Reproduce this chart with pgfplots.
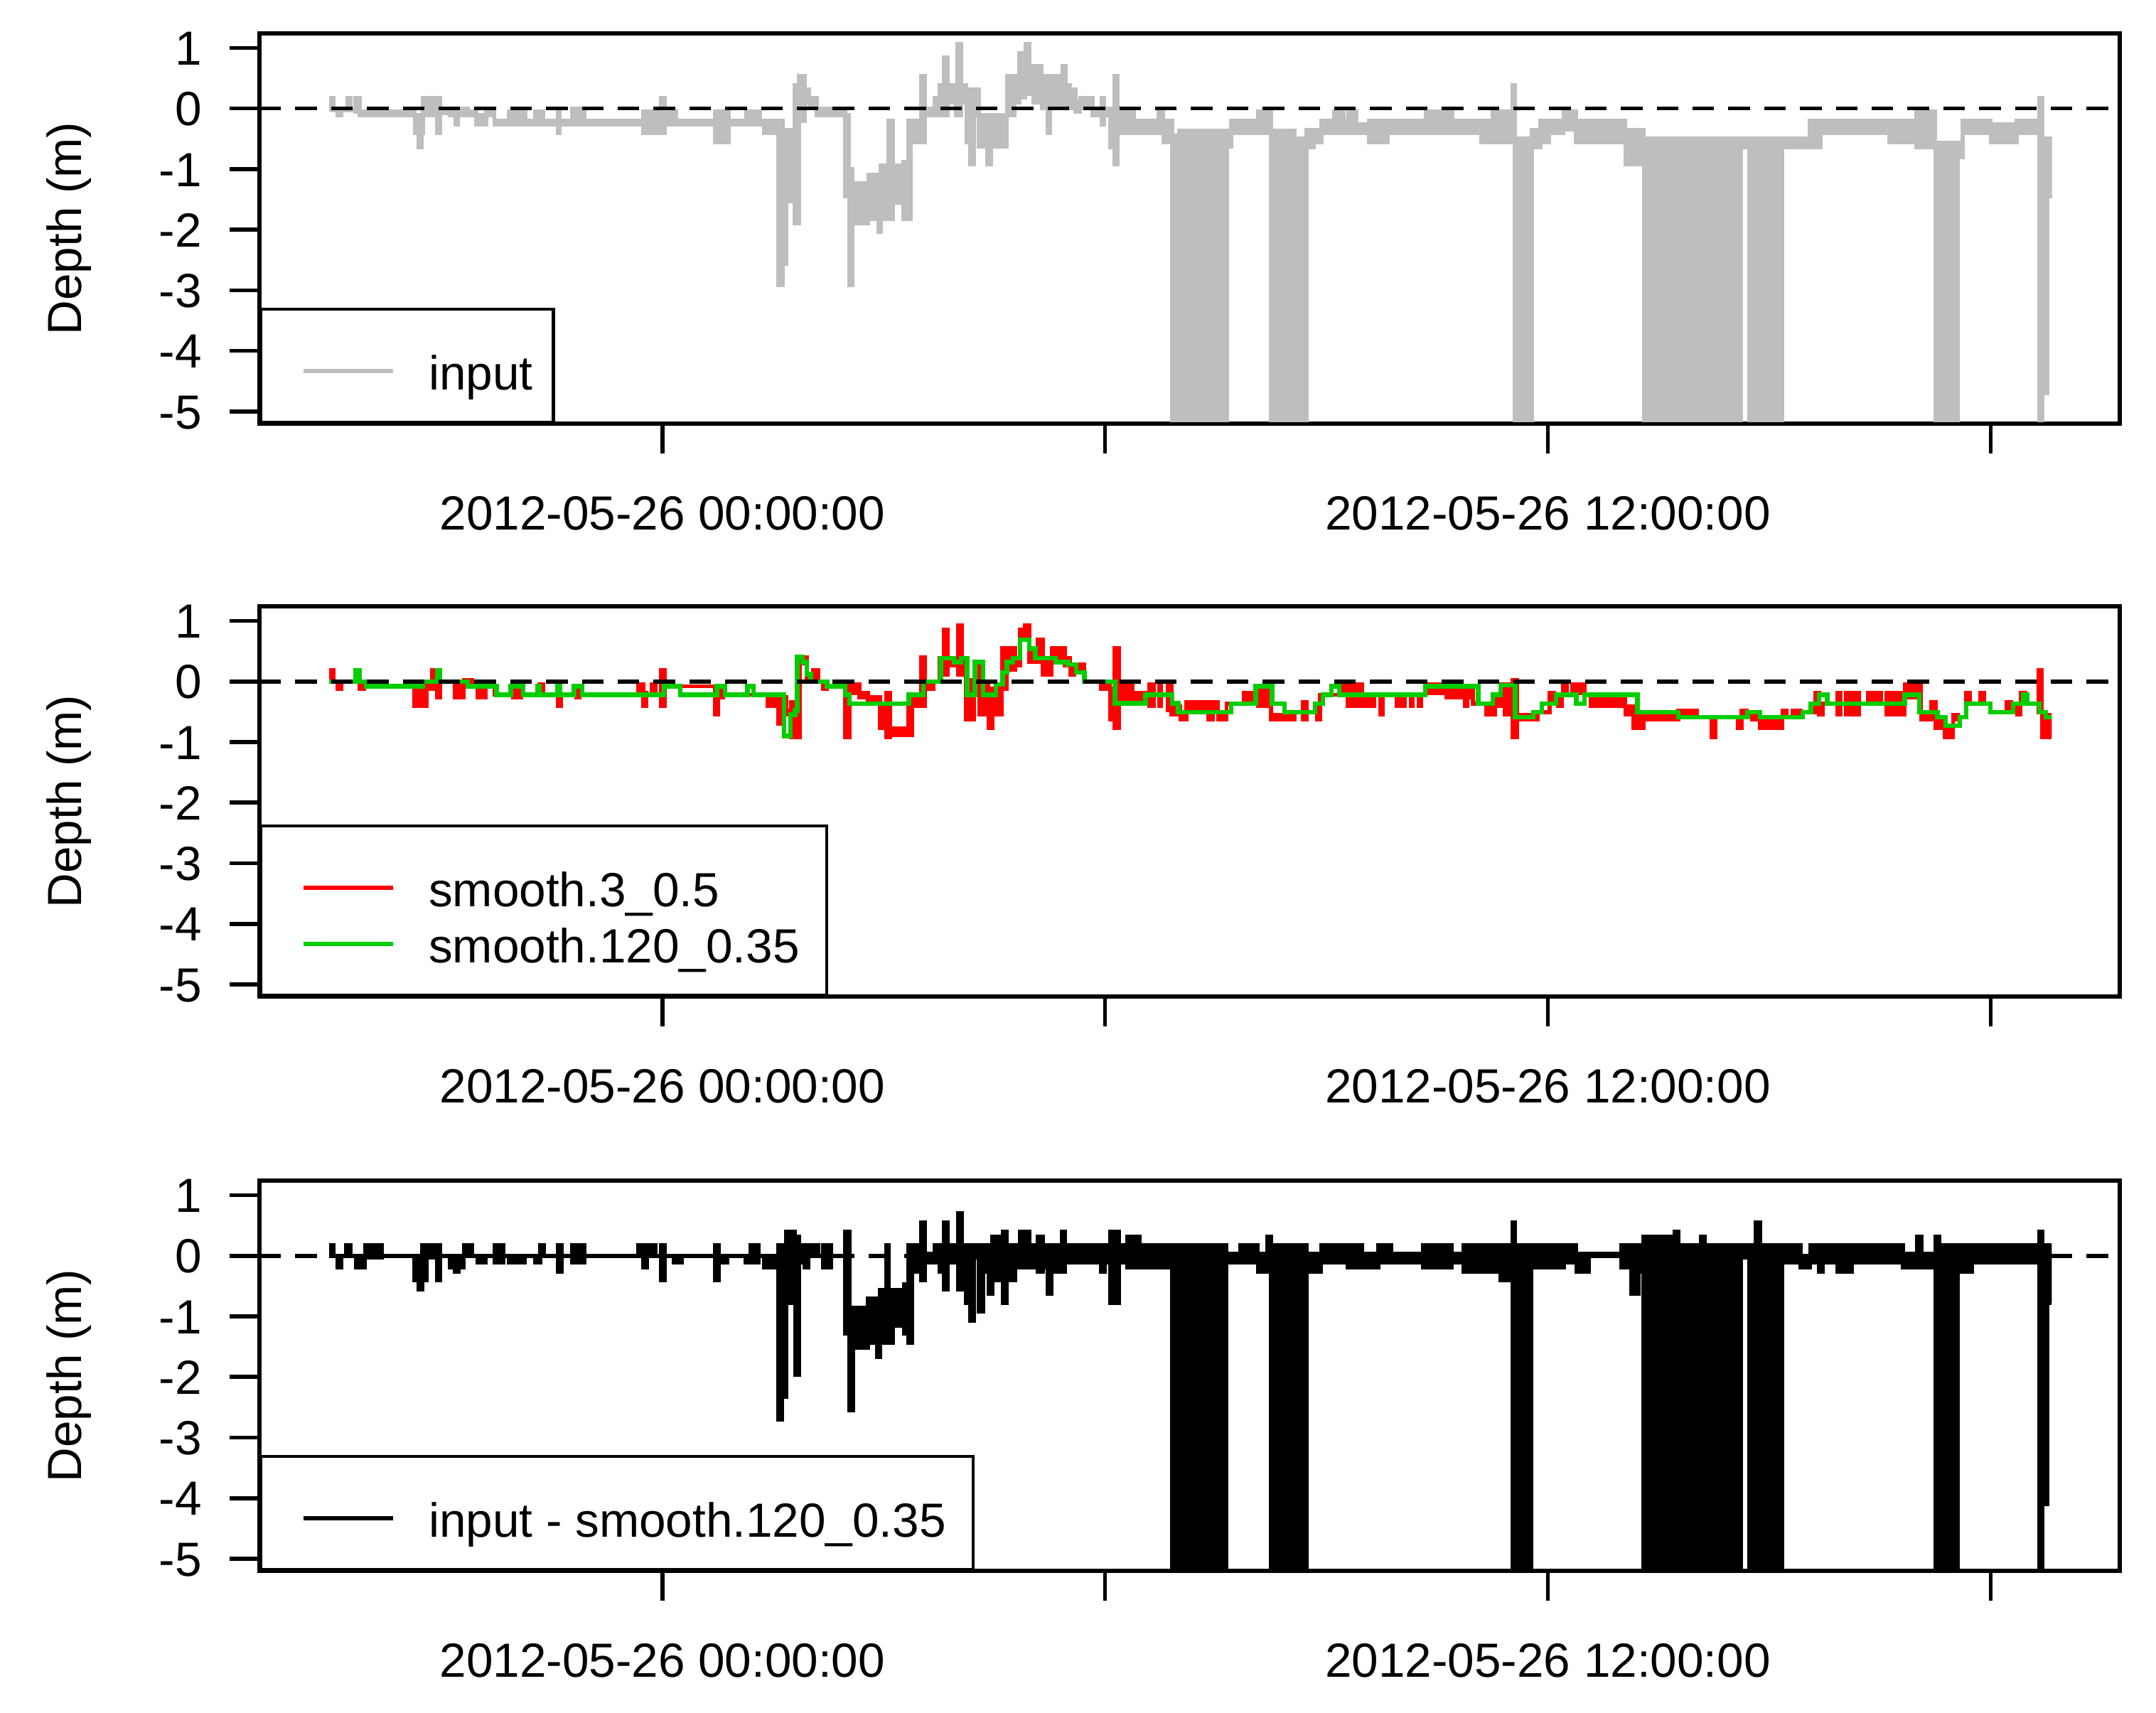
\documentclass[border=0pt]{standalone}
\usepackage{fontspec}
\setmainfont{Liberation Sans}
\usepackage{pgfplots}
\pgfplotsset{compat=1.18}
\usepackage{pgfplotstable}
\usepgfplotslibrary{fillbetween}
\definecolor{rgrey}{HTML}{BEBEBE}
\definecolor{rred}{HTML}{FF0000}
\definecolor{rgreen}{HTML}{00CD00}

\pgfplotstableread{
x lo hi
-4.515 -0.02 0.18
-4.46 -0.03 0.00
-4.40 -0.11 0.00
-4.35 -0.03 0.00
-4.27 -0.03 0.18
-4.23 -0.03 0.00
-4.16 -0.05 0.18
-4.10 -0.11 -0.05
-3.354 -0.41 -0.11
-3.30 -0.64 -0.11
-3.26 -0.41 -0.11
-3.244 -0.11 0.18
-3.05 -0.41 0.18
-3.01 -0.08 -0.04
-2.878 -0.11 0.00
-2.80 -0.26 0.00
-2.77 -0.11 0.00
-2.635 -0.11 -0.05
-2.52 -0.26 -0.11
-2.386 -0.11 -0.05
-2.275 -0.26 -0.20
-2.08 -0.26 -0.05
-1.86 -0.26 -0.20
-1.72 -0.26 -0.05
-1.61 -0.26 -0.20
-1.42 -0.41 -0.05
-1.39 -0.26 -0.20
-1.22 -0.26 0.00
-1.06 -0.26 -0.20
-0.26 -0.41 -0.05
-0.07 -0.26 -0.20
-0.02 -0.41 0.18
0.03 -0.26 -0.05
0.19 -0.26 -0.20
0.71 -0.56 -0.05
0.90 -0.26 -0.20
1.14 -0.26 -0.05
1.32 -0.26 -0.20
1.38 -0.41 -0.20
1.57 -2.92 -0.20
1.63 -2.56 -0.35
1.68 -1.53 -0.35
1.79 -1.89 0.39
1.85 -0.20 0.54
1.93 0.10 0.32
1.99 0.00 0.18
2.09 -0.11 0.00
2.48 -1.45 -0.11
2.53 -2.92 -1.00
2.58 -1.89 -1.23
2.79 -1.82 -1.09
2.93 -2.04 -1.09
2.96 -1.82 -0.94
3.064 -1.82 -0.20
3.12 -1.55 -0.94
3.27 -1.82 -0.88
3.33 -1.82 -0.20
3.37 -0.56 -0.20
3.51 -0.56 0.54
3.56 -0.11 0.00
3.69 -0.11 0.18
3.76 -0.11 0.39
3.81 -0.11 0.84
3.87 0.10 0.39
3.98 -0.11 0.39
4.00 -0.11 1.06
4.05 0.10 0.39
4.12 -0.56 0.32
4.17 -0.92 0.32
4.22 -0.11 0.32
4.29 -0.63 -0.11
4.40 -0.92 -0.11
4.45 -0.63 -0.11
4.67 -0.11 0.54
4.73 -0.11 0.32
4.77 0.10 0.54
4.84 0.18 0.91
4.92 0.24 1.06
4.97 0.24 0.70
5.03 0.10 0.54
5.08 0.10 0.70
5.14 0.00 0.54
5.22 -0.41 0.24
5.25 0.00 0.54
5.42 0.00 0.70
5.47 0.00 0.39
5.52 0.00 0.32
5.60 -0.05 0.10
5.66 0.00 0.18
5.83 -0.11 0.00
5.95 -0.26 0.18
5.99 -0.11 0.00
6.07 -0.64 0.00
6.13 -0.92 0.54
6.17 -0.41 -0.05
6.29 -0.41 -0.05
6.39 -0.41 -0.20
6.72 -0.41 -0.05
6.79 -0.56 -0.20
6.91 -5.14 -0.45
7.00 -5.14 -0.37
7.65 -0.63 -0.37
7.71 -0.41 -0.20
8.07 -0.41 -0.05
8.19 -0.26 -0.05
8.25 -5.14 -0.36
8.57 -5.14 -0.49
8.73 -0.64 -0.35
8.83 -0.56 -0.35
8.93 -0.41 -0.20
9.10 -0.41 -0.05
9.23 -0.41 -0.20
9.30 -0.41 -0.05
9.41 -0.41 -0.26
9.58 -0.56 -0.20
9.83 -0.41 -0.20
10.35 -0.41 -0.05
10.71 -0.41 -0.20
11.10 -0.56 -0.20
11.25 -0.56 -0.05
11.52 -0.49 0.39
11.55 -5.14 -0.49
11.78 -0.64 -0.35
11.90 -0.56 -0.20
12.02 -0.41 -0.20
12.21 -0.35 -0.05
12.38 -0.56 -0.20
13.05 -0.92 -0.35
13.30 -5.14 -0.50
14.62 -0.64 -0.50
14.73 -5.14 -0.50
15.18 -0.64 -0.49
15.55 -0.64 -0.20
15.70 -0.41 -0.20
16.63 -0.56 -0.20
16.99 -0.64 -0.05
17.25 -5.14 -0.56
17.555 -0.80 -0.56
17.62 -0.41 -0.20
18.00 -0.56 -0.26
18.35 -0.41 -0.20
18.66 -5.14 0.18
18.70 -4.70 -0.49
18.77 -1.45 -0.49
18.83 -1.45 -0.49
}\inputT

\pgfplotstableread{
x y
-4.515 0.00
-4.156 0.18
-4.101 0.00
-4.018 -0.08
-3.244 0.00
-3.050 0.18
-3.011 0.00
-2.635 -0.08
-2.248 -0.22
-2.055 -0.08
-1.889 -0.22
-1.695 -0.08
-1.668 -0.22
-1.419 -0.08
-1.391 -0.22
-1.198 -0.08
-1.087 -0.22
0.019 -0.08
0.240 -0.22
0.738 -0.08
0.849 -0.22
1.153 -0.08
1.236 -0.22
1.650 -0.90
1.733 -0.55
1.799 -0.48
1.827 0.40
1.899 0.32
1.955 0.12
2.010 0.00
2.231 -0.08
2.480 -0.22
2.535 -0.37
3.340 -0.22
3.534 0.00
3.772 0.38
3.949 0.32
4.048 0.38
4.131 -0.22
4.236 0.32
4.347 -0.22
4.520 -0.05
4.612 0.15
4.668 0.32
4.750 0.38
4.845 0.69
4.972 0.54
5.055 0.38
5.331 0.32
5.497 0.28
5.608 0.15
5.718 0.00
6.133 -0.36
6.548 -0.22
6.907 -0.36
6.990 -0.51
7.709 -0.37
8.041 -0.08
8.262 -0.37
8.428 -0.51
8.843 -0.37
8.953 -0.22
9.064 -0.08
9.175 -0.22
10.336 -0.08
11.055 -0.37
11.25 -0.22
11.36 -0.06
11.556 -0.59
11.805 -0.51
11.916 -0.37
12.109 -0.22
12.386 -0.37
12.496 -0.22
13.215 -0.51
13.768 -0.59
14.708 -0.51
14.874 -0.59
15.455 -0.51
15.565 -0.37
15.676 -0.22
15.787 -0.37
16.837 -0.22
17.031 -0.51
17.280 -0.59
17.390 -0.73
17.584 -0.59
17.667 -0.37
17.999 -0.51
18.303 -0.37
18.441 -0.22
18.496 -0.37
18.662 -0.51
18.745 -0.59
18.828 -0.59
}\greenT

\pgfplotstableread{
x lo hi
-4.515 0.00 0.19
-4.46 0.00 0.00
-4.405 -0.12 0.00
-4.35 0.00 0.00
-4.10 -0.12 -0.05
-4.045 -0.08 -0.08
-3.365 -0.41 -0.12
-3.19 -0.12 -0.05
-3.12 -0.12 0.19
-3.067 -0.05 0.00
-3.05 -0.26 0.00
-3.011 0.00 0.00
-2.81 -0.26 -0.05
-2.69 -0.05 0.02
-2.58 -0.08 -0.08
-2.508 -0.26 -0.12
-2.398 -0.08 -0.08
-2.276 -0.22 -0.22
-2.027 -0.26 -0.12
-1.916 -0.22 -0.22
-1.668 -0.19 -0.05
-1.612 -0.22 -0.22
-1.419 -0.41 -0.22
-1.375 -0.22 -0.22
-1.17 -0.26 -0.12
-1.126 -0.22 -0.22
-0.324 -0.19 -0.05
-0.258 -0.41 -0.19
-0.214 -0.22 -0.22
-0.147 -0.19 -0.05
-0.092 -0.22 -0.22
-0.02 -0.41 0.19
0.036 -0.08 -0.08
0.71 -0.55 -0.22
0.754 -0.26 -0.12
0.82 -0.22 -0.22
1.43 -0.41 -0.26
1.568 -0.70 -0.26
1.623 -0.41 -0.26
1.678 -0.55 -0.48
1.745 -0.92 -0.34
1.86 0.30 0.40
1.955 0.00 0.12
2.04 0.00 0.19
2.11 0.00 0.00
2.18 -0.12 -0.05
2.231 -0.08 -0.08
2.48 -0.92 -0.26
2.535 -0.19 -0.05
2.673 -0.26 -0.19
2.784 -0.34 -0.26
2.95 -0.77 -0.41
3.033 -0.92 -0.19
3.09 -0.88 -0.77
3.33 -0.88 -0.41
3.385 -0.41 -0.26
3.506 -0.41 0.40
3.56 -0.05 0.00
3.617 -0.12 -0.05
3.672 0.00 0.00
3.755 0.30 0.38
3.81 0.11 0.85
3.866 0.26 0.32
4.004 0.11 0.93
4.059 0.32 0.38
4.115 -0.63 0.02
4.225 0.11 0.26
4.292 -0.55 -0.05
4.419 -0.77 -0.12
4.474 -0.55 -0.12
4.601 -0.12 0.55
4.668 0.19 0.32
4.723 0.19 0.55
4.778 0.26 0.32
4.845 0.69 0.85
4.917 0.69 0.93
4.972 0.32 0.48
5.083 0.32 0.69
5.154 0.11 0.32
5.276 0.32 0.55
5.453 0.26 0.38
5.525 0.11 0.26
5.58 0.15 0.28
5.718 0.00 0.00
5.94 -0.12 -0.05
6.067 -0.63 -0.12
6.122 -0.77 0.55
6.188 -0.34 -0.05
6.327 -0.19 -0.05
6.371 -0.34 -0.19
6.603 -0.41 -0.05
6.66 -0.22 -0.22
6.73 -0.41 -0.05
6.76 -0.22 -0.22
6.85 -0.48 -0.05
6.90 -0.55 -0.41
7.018 -0.63 -0.55
7.10 -0.48 -0.34
7.40 -0.63 -0.34
7.46 -0.48 -0.34
7.53 -0.63 -0.51
7.645 -0.37 -0.37
7.875 -0.34 -0.19
7.985 -0.37 -0.37
8.07 -0.41 -0.12
8.25 -0.63 -0.55
8.566 -0.51 -0.51
8.677 -0.63 -0.34
8.732 -0.51 -0.51
8.87 -0.63 -0.41
8.914 -0.22 -0.22
9.175 -0.19 -0.05
9.23 -0.22 -0.22
9.285 -0.41 -0.05
9.479 -0.22 -0.22
9.534 -0.41 -0.26
9.645 -0.22 -0.22
9.728 -0.55 -0.22
9.76 -0.22 -0.22
9.949 -0.41 -0.26
10.06 -0.22 -0.22
10.142 -0.41 -0.22
10.17 -0.22 -0.22
10.25 -0.41 -0.22
10.28 -0.22 -0.22
10.336 -0.19 -0.05
10.629 -0.26 -0.12
10.88 -0.41 -0.12
10.91 -0.26 -0.12
10.983 -0.37 -0.37
11.165 -0.55 -0.41
11.287 -0.41 -0.26
11.36 -0.05 -0.05
11.414 -0.55 -0.12
11.47 -0.05 -0.05
11.525 -0.92 0.02
11.58 -0.63 -0.55
11.86 -0.51 -0.51
12.026 -0.34 -0.19
12.08 -0.37 -0.37
12.137 -0.41 -0.26
12.192 -0.22 -0.22
12.203 -0.22 -0.05
12.258 -0.22 -0.22
12.33 -0.19 -0.05
12.496 -0.22 -0.22
12.58 -0.41 -0.26
12.994 -0.22 -0.22
13.05 -0.55 -0.41
13.16 -0.77 -0.55
13.298 -0.63 -0.55
13.768 -0.55 -0.48
14.017 -0.59 -0.59
14.222 -0.92 -0.59
14.266 -0.59 -0.59
14.57 -0.77 -0.59
14.625 -0.55 -0.48
14.692 -0.59 -0.59
14.764 -0.63 -0.55
14.819 -0.59 -0.59
14.874 -0.77 -0.63
15.178 -0.55 -0.48
15.234 -0.59 -0.59
15.317 -0.55 -0.48
15.427 -0.51 -0.51
15.62 -0.34 -0.19
15.676 -0.55 -0.41
15.72 -0.37 -0.37
15.925 -0.55 -0.19
15.97 -0.37 -0.37
16.035 -0.55 -0.19
16.218 -0.37 -0.37
16.34 -0.34 -0.19
16.516 -0.37 -0.37
16.588 -0.55 -0.19
16.837 -0.26 -0.05
17.058 -0.63 -0.51
17.197 -0.48 -0.34
17.252 -0.77 -0.63
17.38 -0.92 -0.77
17.49 -0.63 -0.55
17.556 -0.59 -0.59
17.667 -0.34 -0.19
17.72 -0.37 -0.37
17.86 -0.34 -0.19
17.916 -0.37 -0.37
18.0 -0.51 -0.51
18.22 -0.48 -0.34
18.275 -0.51 -0.51
18.358 -0.55 -0.41
18.402 -0.37 -0.37
18.413 -0.34 -0.19
18.468 -0.37 -0.37
18.651 -0.51 0.19
18.695 -0.92 -0.55
18.828 -0.92 -0.55
}\redT

\pgfplotstableread{
x lo hi
-4.515 0.00 0.18
-4.46 0.00 0.00
-4.405 -0.19 0.00
-4.35 0.00 0.00
-4.283 0.00 0.18
-4.228 0.00 0.00
-4.156 -0.19 0.00
-4.029 -0.03 0.18
-3.797 0.00 0.00
-3.365 -0.41 0.00
-3.30 -0.56 0.00
-3.255 -0.41 0.18
-3.19 -0.03 0.18
-3.05 -0.41 0.18
-3.01 0.00 0.00
-2.879 -0.19 0.00
-2.812 -0.26 0.00
-2.762 -0.19 0.00
-2.69 0.00 0.18
-2.58 0.00 0.00
-2.508 -0.11 0.00
-2.398 0.00 0.00
-2.276 -0.11 0.18
-2.154 0.00 0.00
-2.083 -0.11 0.00
-1.861 0.00 0.00
-1.723 -0.11 0.00
-1.657 0.00 0.18
-1.601 0.00 0.00
-1.419 -0.26 0.18
-1.364 0.00 0.00
-1.225 -0.11 0.18
-1.059 0.00 0.00
-0.324 0.00 0.18
-0.258 -0.19 0.18
-0.213 0.00 0.18
-0.092 0.00 0.00
-0.02 -0.41 0.18
0.036 0.00 0.00
0.157 -0.11 0.00
0.268 0.00 0.00
0.71 -0.41 0.18
0.765 -0.11 0.00
0.876 0.00 0.00
1.125 -0.11 0.00
1.191 -0.11 0.18
1.30 0.00 0.00
1.374 -0.19 0.00
1.568 -2.70 0.18
1.623 -2.33 -0.19
1.678 -0.78 0.40
1.80 -1.97 0.32
1.855 -0.11 0.18
1.927 -0.19 0.18
1.982 0.00 0.18
2.109 0.00 0.00
2.176 -0.19 0.18
2.286 0.00 0.00
2.48 -1.29 0.40
2.535 -2.55 -0.86
2.59 -1.52 -0.86
2.784 -1.44 -0.70
2.906 -1.67 -0.70
2.95 -1.44 -0.56
3.033 -1.15 0.18
3.064 -1.44 -0.56
3.12 -1.15 -0.56
3.274 -1.29 -0.47
3.33 -1.44 0.18
3.385 -0.26 0.18
3.506 -0.41 0.55
3.562 -0.11 0.03
3.689 -0.11 0.18
3.755 -0.26 0.18
3.81 -0.56 0.55
3.866 -0.11 0.18
4.004 -0.56 0.70
4.059 -0.11 0.03
4.115 -0.78 0.18
4.17 -1.07 0.18
4.225 -0.03 0.18
4.29 -0.92 0.18
4.347 -0.26 0.18
4.419 -0.63 0.18
4.474 -0.41 0.32
4.612 -0.78 0.40
4.668 -0.26 0.18
4.723 -0.41 0.18
4.778 -0.19 0.18
4.845 -0.19 0.40
4.972 -0.19 0.18
5.083 -0.26 0.32
5.154 -0.19 0.18
5.22 -0.63 0.18
5.276 -0.26 0.18
5.414 -0.26 0.40
5.453 -0.11 0.18
5.94 -0.26 0.18
5.995 -0.11 0.18
6.067 -0.78 0.40
6.188 -0.11 0.18
6.299 -0.19 0.32
6.465 -0.19 0.18
6.907 -5.14 0.18
7.643 -0.11 0.03
7.83 -0.11 0.18
8.069 -0.26 0.03
8.195 -0.26 0.32
8.25 -5.14 0.18
8.732 -0.26 0.03
8.926 -0.11 0.18
9.285 -0.19 0.18
9.479 -0.19 0.03
9.70 -0.11 0.18
9.877 -0.11 0.03
10.308 -0.19 0.18
10.695 -0.11 0.03
10.861 -0.26 0.18
11.359 -0.41 0.18
11.525 -5.14 0.55
11.556 -5.14 0.18
11.777 -0.19 0.18
12.22 -0.11 0.18
12.386 -0.26 0.03
12.551 0.00 0.03
12.994 -0.19 0.18
13.132 -0.63 0.18
13.232 -0.26 0.18
13.298 -5.14 0.32
13.713 -5.14 0.40
13.768 -5.14 0.18
14.072 -5.14 0.32
14.128 -5.14 0.18
14.62 -0.03 0.18
14.73 -5.14 0.18
14.819 -5.14 0.55
14.874 -5.14 0.18
15.178 -0.11 0.18
15.427 -0.19 -0.03
15.554 -0.11 0.18
15.676 -0.26 0.03
15.72 -0.11 0.18
15.925 -0.26 0.18
16.118 -0.11 0.18
16.81 -0.19 0.03
17.003 -0.19 0.32
17.059 -0.19 0.03
17.252 -5.14 0.32
17.307 -5.14 0.18
17.556 -0.26 0.18
17.75 -0.11 0.18
18.662 -5.14 0.40
18.706 -4.10 0.18
18.773 -0.78 0.18
18.828 -0.78 0.18
}\resT

\pgfplotsset{
  rpanel/.style={
    scale only axis, width=13.085cm, height=2.745cm,
    xmin=-5.46, xmax=19.75, ymin=-5.2, ymax=1.24,
    axis line style={line width=0.8pt},
    tick style={line width=0.8pt, black},
    tick align=outside, major tick length=0.21cm,
    xtick pos=left, ytick pos=left,
    xtick={0,6,12,18},
    xticklabels={2012-05-26 00:00:00,,2012-05-26 12:00:00,},
    ytick={-5,-4,-3,-2,-1,0,1},
    yticklabels={-5,-4,-3,-2,-1,0,1},
    xticklabel style={inner sep=0pt, text height=0.242cm, text depth=0pt, yshift=-0.29cm},
    yticklabel style={inner sep=0pt, text height=0.242cm, text depth=0pt, anchor=east, xshift=-0.19cm},
    ylabel={Depth (m)},
    ylabel style={at={(axis description cs:-0.1024,0.5)}, anchor=center, inner sep=0pt},
    legend cell align=left,
    legend style={at={(0,0)}, anchor=south west, draw=black, line width=0.6pt, fill=white,
      inner xsep=0pt, inner ysep=0.2cm, row sep=0pt, column sep=0pt,
      cells={anchor=base west},
      nodes={inner sep=0pt, text height=0.37cm, text depth=0.025cm}},
    legend image code/.code={\path[draw=none] (0cm,0cm) -- (1.18cm,0cm);
      \draw[##1] (0.3cm,0.135cm) -- (0.93cm,0.135cm);},
  },
  zline/.style={black, line width=0.8pt, dash pattern=on 0.152cm off 0.1cm, forget plot},
}

\begin{document}
\begin{tikzpicture}[font=\fontsize{9.6}{11.5}\selectfont]

% Panel 1
\begin{axis}[rpanel, at={(1.825cm,-0.235cm)}, anchor=north west]
\addplot[name path=iH, rgrey, const plot, line width=0.8pt, forget plot] table[x=x, y=hi]{\inputT};
\addplot[name path=iL, rgrey, const plot, line width=0.8pt, forget plot] table[x=x, y=lo]{\inputT};
\addplot[rgrey, forget plot] fill between[of=iH and iL];
\addplot[zline] coordinates {(-5.46,0) (19.75,0)};
\addlegendimage{rgrey, line width=0.85pt}
\addlegendentry{input\hspace*{0.145cm}}
\end{axis}

% Panel 2
\begin{axis}[rpanel, at={(1.825cm,-4.265cm)}, anchor=north west]
\addplot[name path=rH, rred, const plot, line width=0.8pt, forget plot] table[x=x, y=hi]{\redT};
\addplot[name path=rL, rred, const plot, line width=0.8pt, forget plot] table[x=x, y=lo]{\redT};
\addplot[rred, forget plot] fill between[of=rH and rL];
\addplot[rgreen, const plot, line width=0.9pt, forget plot] table[x=x, y=y]{\greenT};
\addplot[zline] coordinates {(-5.46,0) (19.75,0)};
\addlegendimage{rred, line width=0.85pt}
\addlegendentry{smooth.3\_0.5}
\addlegendimage{rgreen, line width=0.85pt}
\addlegendentry{smooth.120\_0.35\hspace*{0.19cm}}
\end{axis}

% Panel 3
\begin{axis}[rpanel, at={(1.825cm,-8.305cm)}, anchor=north west]
\addplot[name path=dH, black, const plot, line width=0.8pt, forget plot] table[x=x, y=hi]{\resT};
\addplot[name path=dL, black, const plot, line width=0.8pt, forget plot] table[x=x, y=lo]{\resT};
\addplot[black, forget plot] fill between[of=dH and dL];
\addplot[zline] coordinates {(-5.46,0) (19.75,0)};
\addlegendimage{black, line width=0.85pt}
\addlegendentry{input - smooth.120\_0.35\hspace*{0.19cm}}
\end{axis}

\pgfresetboundingbox
\useasboundingbox (0,0) rectangle (15.165cm,-12.05cm);
\end{tikzpicture}
\end{document}
